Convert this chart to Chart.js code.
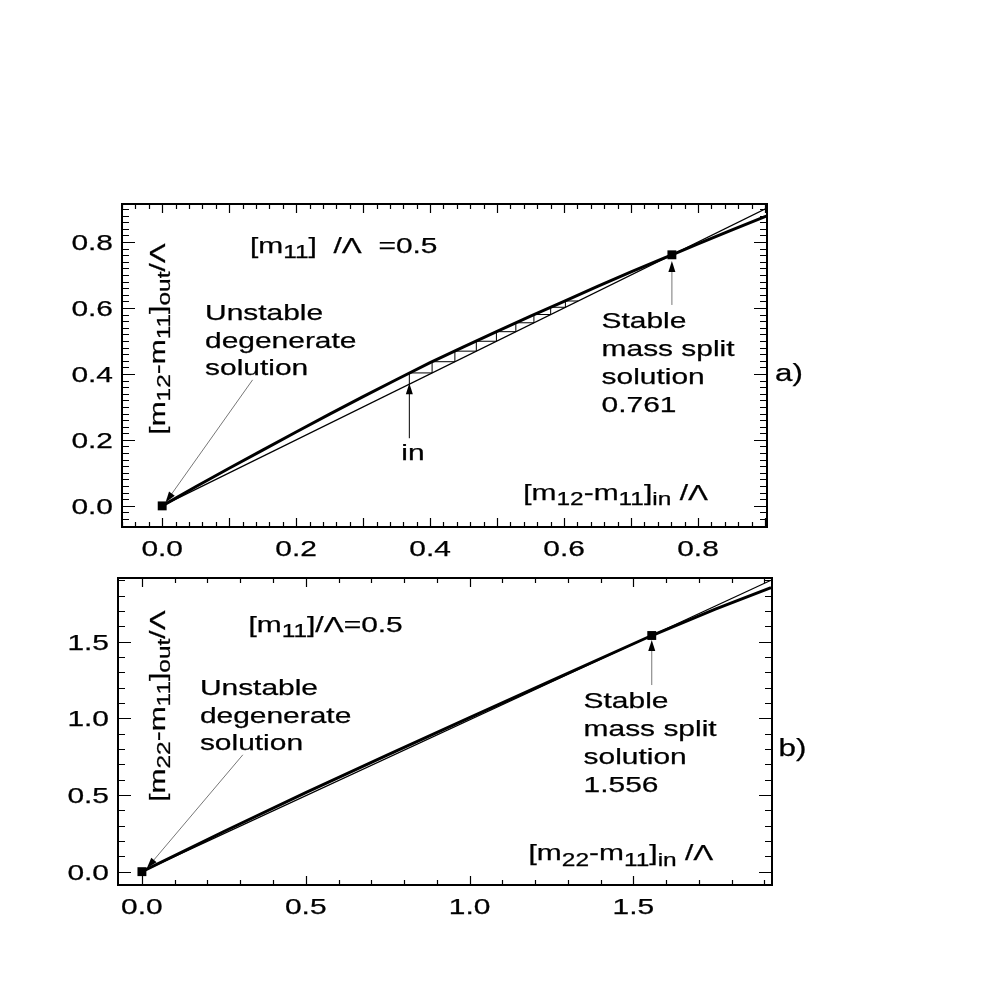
<!DOCTYPE html>
<html>
<head>
<meta charset="utf-8">
<script src="https://cdn.jsdelivr.net/npm/chart.js@4.4.0/dist/chart.umd.min.js"></script>
<style>
  body { margin: 0; background: #fff; }
  .panel { position: absolute; left: 0; }
</style>
</head>
<body>
<div class="panel" style="top:180px"><canvas id="chartA" width="860" height="390"></canvas></div>
<div class="panel" style="top:550px"><canvas id="chartB" width="860" height="380"></canvas></div>
<script>
// ---- panel a) [m12-m11] ----
const aCurveX = [0, 0.05, 0.1, 0.15, 0.2, 0.25, 0.3, 0.35, 0.4, 0.45, 0.5, 0.55, 0.6, 0.65, 0.7, 0.75, 0.761, 0.8, 0.85, 0.9, 0.903];
const aCurveY = [0, 0.058, 0.114, 0.169, 0.224, 0.278, 0.331, 0.383, 0.434, 0.482, 0.529, 0.575, 0.620, 0.665, 0.709, 0.752, 0.761, 0.794, 0.836, 0.877, 0.879];
const aDiagX = [0, 0.903];
const aDiagY = [0, 0.903];
const aSteps = [0.369, 0.403, 0.437, 0.469, 0.499, 0.528, 0.555, 0.580, 0.602, 0.621];
const aFixedX = [0, 0.761];
const aFixedY = [0, 0.761];
const aXTicks = [0.0, 0.2, 0.4, 0.6, 0.8];
const aYTicks = [0.0, 0.2, 0.4, 0.6, 0.8];

// ---- panel b) [m22-m11] ----
const bCurveX = [0, 0.25, 0.5, 0.75, 1.0, 1.25, 1.556, 1.75, 1.92];
const bCurveY = [0, 0.262, 0.515, 0.762, 1.005, 1.245, 1.540, 1.712, 1.852];
const bDiagX = [0, 1.92];
const bDiagY = [0, 1.90];
const bFixedX = [0, 1.556];
const bFixedY = [0, 1.540];
const bXTicks = [0.0, 0.5, 1.0, 1.5];
const bYTicks = [0.0, 0.5, 1.0, 1.5];

const HS = 1.36;
const FONT = '"Liberation Sans", Arial, Helvetica, sans-serif';

const pts = (xs, ys) => xs.map((x, i) => ({ x: x, y: ys[i] }));

function segs(str) {
  const out = [], re = /_\{([^}]*)\}/g;
  let last = 0, m;
  while ((m = re.exec(str))) {
    if (m.index > last) out.push([str.slice(last, m.index), false]);
    out.push([m[1], true]);
    last = re.lastIndex;
  }
  if (last < str.length) out.push([str.slice(last), false]);
  return out;
}

function drawRich(ctx, str, x, y, o) {
  const size = o.size || 22, sub = Math.round(size * 0.8), parts = segs(str);
  ctx.save();
  ctx.translate(x, y);
  if (o.rot) ctx.rotate(o.rot * Math.PI / 180);
  ctx.scale(HS, 1);
  let w = 0;
  parts.forEach(([t, s]) => { ctx.font = (s ? sub : size) + 'px ' + FONT; w += ctx.measureText(t).width; });
  let cx = o.align === 'center' ? -w / 2 : o.align === 'right' ? -w : 0;
  ctx.textAlign = 'left';
  ctx.textBaseline = 'alphabetic';
  ctx.fillStyle = '#000';
  ctx.strokeStyle = '#000';
  ctx.lineWidth = 0.25;
  parts.forEach(([t, s]) => {
    ctx.font = (s ? sub : size) + 'px ' + FONT;
    const dy = s ? size * 0.24 : 0;
    ctx.fillText(t, cx, dy);
    ctx.strokeText(t, cx, dy);
    cx += ctx.measureText(t).width;
  });
  ctx.restore();
}

function eachTick(min, max, step, major, fn) {
  const start = Math.ceil(min / step - 1e-9);
  for (let i = start; i * step <= max + 1e-9; i++) {
    const v = i * step;
    fn(v, Math.abs(v / major - Math.round(v / major)) < 1e-6);
  }
}

function arrow(ctx, x1, y1, x2, y2, color) {
  const ang = Math.atan2(y2 - y1, x2 - x1), L = 11, W = 3.5;
  const c = Math.cos(ang), s = Math.sin(ang);
  ctx.strokeStyle = color;
  ctx.lineWidth = 1;
  ctx.beginPath();
  ctx.moveTo(x1, y1);
  ctx.lineTo(x2 - L * 0.7 * c, y2 - L * 0.7 * s);
  ctx.stroke();
  ctx.fillStyle = '#000';
  ctx.beginPath();
  ctx.moveTo(x2, y2);
  ctx.lineTo(x2 - L * c + W * s, y2 - L * s - W * c);
  ctx.lineTo(x2 - L * c - W * s, y2 - L * s + W * c);
  ctx.closePath();
  ctx.fill();
}

const paper = {
  id: 'paper',
  afterDraw(chart, args, opts) {
    const ctx = chart.ctx, a = chart.chartArea, xs = chart.scales.x, ys = chart.scales.y;
    ctx.save();
    // frame
    ctx.strokeStyle = '#000';
    ctx.lineWidth = 2;
    ctx.strokeRect(a.left, a.top, a.right - a.left, a.bottom - a.top);
    // inward ticks on all four sides
    ctx.lineWidth = 1.2;
    ctx.beginPath();
    eachTick(xs.min, xs.max, opts.xMinor, opts.xMajor, (v, major) => {
      const px = Math.round(xs.getPixelForValue(v)) + 0.5, len = major ? 9 : 5;
      ctx.moveTo(px, a.bottom); ctx.lineTo(px, a.bottom - len);
      ctx.moveTo(px, a.top); ctx.lineTo(px, a.top + len);
    });
    eachTick(ys.min, ys.max, opts.yMinor, opts.yMajor, (v, major) => {
      const py = Math.round(ys.getPixelForValue(v)) + 0.5, len = major ? 13 : 7;
      ctx.moveTo(a.left, py); ctx.lineTo(a.left + len, py);
      ctx.moveTo(a.right, py); ctx.lineTo(a.right - len, py);
    });
    ctx.stroke();
    // tick labels
    xs.ticks.forEach(t => drawRich(ctx, t.value.toFixed(1), xs.getPixelForValue(t.value), a.bottom + 29, { align: 'center' }));
    ys.ticks.forEach(t => drawRich(ctx, t.value.toFixed(1), a.left - 9, ys.getPixelForValue(t.value) + 8, { align: 'right' }));
    // arrows
    (opts.arrows || []).forEach(ar => {
      arrow(ctx, xs.getPixelForValue(ar.from[0]), ys.getPixelForValue(ar.from[1]),
        xs.getPixelForValue(ar.to[0]), ys.getPixelForValue(ar.to[1]), ar.color);
    });
    // annotations
    (opts.notes || []).forEach(n => {
      const x = xs.getPixelForValue(n.x), y = ys.getPixelForValue(n.y);
      n.text.split('\n').forEach((line, i) => drawRich(ctx, line, x, y + i * (n.lh || 0), n));
    });
    ctx.restore();
  }
};

function makeChart(id, cfg) {
  const datasets = [
    { data: pts(cfg.diagX, cfg.diagY), borderColor: '#000', borderWidth: 1.2 },
    { data: pts(cfg.curveX, cfg.curveY), borderColor: '#000', borderWidth: 3 }
  ];
  if (cfg.steps) {
    const web = [];
    cfg.steps.forEach((v, i) => {
      web.push({ x: v, y: v });
      if (i < cfg.steps.length - 1) web.push({ x: v, y: cfg.steps[i + 1] });
    });
    datasets.push({ data: web, borderColor: '#000', borderWidth: 1 });
  }
  datasets.push({
    data: pts(cfg.fixedX, cfg.fixedY), showLine: false,
    pointStyle: 'rect', pointRadius: 6.3, backgroundColor: '#000', borderColor: '#000', borderWidth: 0
  });
  datasets.forEach(d => {
    if (d.showLine === undefined) { d.showLine = true; d.pointRadius = 0; }
    d.tension = 0;
  });

  return new Chart(document.getElementById(id), {
    type: 'scatter',
    data: { datasets: datasets },
    options: {
      responsive: false,
      animation: false,
      devicePixelRatio: 1,
      layout: { padding: cfg.padding },
      plugins: { legend: { display: false }, tooltip: { enabled: false }, paper: cfg.paper },
      scales: {
        x: {
          type: 'linear', min: cfg.xRange[0], max: cfg.xRange[1],
          afterBuildTicks: s => { s.ticks = cfg.xTicks.map(v => ({ value: v })); },
          afterFit: s => { s.height = 33; },
          ticks: { display: false }, grid: { display: false }, border: { display: false }
        },
        y: {
          type: 'linear', min: cfg.yRange[0], max: cfg.yRange[1],
          afterBuildTicks: s => { s.ticks = cfg.yTicks.map(v => ({ value: v })); },
          afterFit: s => { s.width = cfg.yWidth; },
          ticks: { display: false }, grid: { display: false }, border: { display: false }
        }
      }
    },
    plugins: [paper]
  });
}

makeChart('chartA', {
  curveX: aCurveX, curveY: aCurveY, diagX: aDiagX, diagY: aDiagY,
  steps: aSteps, fixedX: aFixedX, fixedY: aFixedY,
  xTicks: aXTicks, yTicks: aYTicks,
  xRange: [-0.06, 0.903], yRange: [-0.064, 0.915],
  yWidth: 122,
  padding: { left: 0, top: 24, right: 93, bottom: 10 },
  paper: {
    xMinor: 0.02, xMajor: 0.1, yMinor: 0.02, yMajor: 0.2,
    arrows: [
      { from: [0.135, 0.382], to: [0.005, 0.01], color: '#777' },
      { from: [0.369, 0.205], to: [0.369, 0.372], color: '#000' },
      { from: [0.761, 0.609], to: [0.761, 0.742], color: '#777' }
    ],
    notes: [
      { text: '[m_{11}]  /Λ  =0.5', x: 0.131, y: 0.766 },
      { text: 'Unstable\ndegenerate\nsolution', x: 0.064, y: 0.563, lh: 27.5 },
      { text: 'Stable\nmass split\nsolution\n0.761', x: 0.656, y: 0.538, lh: 27.8 },
      { text: 'in', x: 0.357, y: 0.139 },
      { text: '[m_{12}-m_{11}]_{in} /Λ', x: 0.539, y: 0.018 },
      { text: 'a)', x: 0.915, y: 0.378, size: 23 },
      { text: '[m_{12}-m_{11}]_{out}/Λ', x: 0.004, y: 0.506, rot: -90, align: 'center' }
    ]
  }
});

makeChart('chartB', {
  curveX: bCurveX, curveY: bCurveY, diagX: bDiagX, diagY: bDiagY,
  fixedX: bFixedX, fixedY: bFixedY,
  xTicks: bXTicks, yTicks: bYTicks,
  xRange: [-0.073, 1.923], yRange: [-0.087, 1.915],
  yWidth: 118,
  padding: { left: 0, top: 28, right: 88, bottom: 12 },
  paper: {
    xMinor: 0.1, xMajor: 0.5, yMinor: 0.1, yMajor: 0.5,
    arrows: [
      { from: [0.308, 0.762], to: [0.015, 0.022], color: '#777' },
      { from: [1.556, 1.217], to: [1.556, 1.51], color: '#777' }
    ],
    notes: [
      { text: '[m_{11}]/Λ=0.5', x: 0.325, y: 1.565 },
      { text: 'Unstable\ndegenerate\nsolution', x: 0.177, y: 1.152, lh: 27.5 },
      { text: 'Stable\nmass split\nsolution\n1.556', x: 1.348, y: 1.065, lh: 27.8 },
      { text: '[m_{22}-m_{11}]_{in} /Λ', x: 1.18, y: 0.073 },
      { text: 'b)', x: 1.943, y: 0.754, size: 23 },
      { text: '[m_{22}-m_{11}]_{out}/Λ', x: 0.071, y: 1.08, rot: -90, align: 'center' }
    ]
  }
});
</script>
</body>
</html>
